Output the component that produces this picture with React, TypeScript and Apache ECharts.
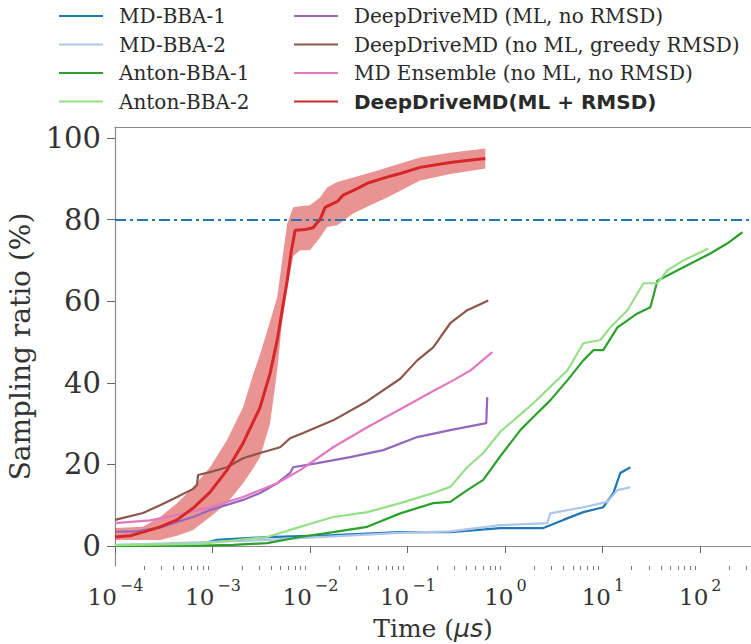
import React, { useEffect, useRef } from "react";
import * as echarts from "echarts";

// ---------- data (time in µs, sampling ratio in %) ----------
const X_MIN = 1e-4;
const X_MAX = 335;
const Y_MIN = -4.9;
const Y_MAX = 102.7;
const yTickValues = [0, 20, 40, 60, 80, 100];
const xMajorTicks = [1e-4, 1e-3, 1e-2, 1e-1, 1, 10, 100];
const thresholdValue = 80;

const mdBba1Time = [1e-4, 7.46e-4, 1.11e-3, 3.64e-3, 1.73e-2, 8.44e-2, 0.275, 0.897, 2.48, 3.98, 6.38, 10.2, 13.0, 15.3, 19.4];
const mdBba1Value = [0.2, 0.5, 1.5, 2.2, 2.7, 3.4, 3.4, 4.4, 4.4, 6.4, 8.3, 9.5, 13, 17.9, 19.3];

const mdBba2Time = [1e-4, 3.64e-3, 8.44e-2, 0.275, 0.897, 2.72, 2.92, 6.38, 11.2, 14.3, 19.4];
const mdBba2Value = [0.2, 1.5, 3.2, 3.6, 5.1, 5.6, 8, 9.5, 10.8, 13.7, 14.4];

const anton1Time = [1e-4, 7.46e-4, 1.63e-3, 3.64e-3, 7.93e-3, 1.73e-2, 3.87e-2, 8.44e-2, 0.184, 0.275, 0.411, 0.6, 0.897, 1.44, 1.96, 2.92, 4.37, 6.38, 8.09, 10.2, 14.3, 22.9, 31.1, 36.7, 67.9, 128, 192, 274];
const anton1Value = [0, 0.1, 0.3, 0.7, 2.2, 3.4, 4.7, 8, 10.5, 10.8, 13.7, 16.2, 22, 28.4, 31.6, 35.7, 40.6, 45.5, 48, 48, 53.6, 57, 58.5, 65, 68.3, 71.7, 74.2, 76.9];

const anton2Time = [1e-4, 7.46e-4, 3.64e-3, 7.93e-3, 1.73e-2, 3.87e-2, 8.44e-2, 0.184, 0.275, 0.411, 0.6, 0.897, 1.34, 1.96, 2.92, 4.37, 6.38, 9.54, 12.1, 18.1, 26.4, 36.7, 46.5, 67.9, 122];
const anton2Value = [0.2, 0.5, 2.2, 4.7, 7.1, 8.3, 10.5, 13, 14.5, 19.3, 22.8, 28, 31.6, 35, 39, 43, 49.7, 50.5, 53.6, 57.8, 64.4, 64.4, 67.6, 70, 72.9];

const ddmdMlTime = [1e-4, 1.68e-4, 2.9e-4, 4.33e-4, 6.33e-4, 9.45e-4, 2.06e-3, 3.08e-3, 4.61e-3, 6.26e-3, 6.73e-3, 1.19e-2, 2.59e-2, 5.65e-2, 0.126, 0.275, 0.644, 0.659];
const ddmdMlValue = [3.5, 3.6, 4.5, 5.9, 7.1, 8.8, 11.3, 13, 15.4, 17.9, 19.3, 20.3, 21.8, 23.5, 26.7, 28.4, 30.1, 36.5];

const ddmdGreedyTime = [1e-4, 1.94e-4, 2.9e-4, 4.33e-4, 6.33e-4, 6.95e-4, 7.11e-4, 9.45e-4, 1.41e-3, 2.06e-3, 3.08e-3, 4.94e-3, 6.26e-3, 8.51e-3, 1.73e-2, 3.87e-2, 8.44e-2, 0.126, 0.184, 0.275, 0.411, 0.676];
const ddmdGreedyValue = [6.4, 8.1, 10, 12, 14, 15, 17.4, 18.1, 19.3, 21.5, 22.8, 24.2, 26.4, 27.7, 30.8, 35.5, 41, 45.5, 48.7, 54.6, 57.8, 60.2];

const ensembleTime = [1e-4, 2.29e-4, 4.33e-4, 9.45e-4, 2.06e-3, 4.61e-3, 7.93e-3, 1.73e-2, 3.87e-2, 8.44e-2, 0.184, 0.295, 0.442, 0.743];
const ensembleValue = [5.6, 6.3, 7.6, 9.5, 12, 15.4, 18.6, 24.2, 29.1, 33.5, 38, 40.6, 43, 47.5];

const ddmdTime = [1e-4, 1.43e-4, 1.94e-4, 2.9e-4, 4.33e-4, 6.33e-4, 9.45e-4, 1.41e-3, 2.06e-3, 3.08e-3, 3.9e-3, 4.61e-3, 5.19e-3, 5.84e-3, 6.41e-3, 7.05e-3, 8.93e-3, 1.08e-2, 1.19e-2, 1.27e-2, 1.43e-2, 1.73e-2, 1.9e-2, 2.19e-2, 2.59e-2, 3.05e-2, 3.87e-2, 5.92e-2, 8.44e-2, 0.135, 0.184, 0.275, 0.411, 0.63];
const ddmdMean = [2.2, 2.5, 3.4, 4.7, 6.4, 9.3, 13.2, 18.6, 25.2, 34, 42.3, 50.4, 57.8, 65, 72, 77.4, 77.6, 78, 79.3, 80, 83, 84, 84.4, 86, 86.8, 87.6, 88.9, 90.3, 91.3, 92.8, 93.3, 94, 94.5, 95];

const ddmdBandTime = [1e-4, 1.94e-4, 2.9e-4, 4.33e-4, 6.33e-4, 9.45e-4, 1.41e-3, 2.06e-3, 2.61e-3, 3.08e-3, 3.9e-3, 4.61e-3, 5.19e-3, 5.84e-3, 6.73e-3, 7.93e-3, 1.0e-2, 1.27e-2, 1.5e-2, 1.9e-2, 2.78e-2, 4.15e-2, 6.21e-2, 0.135, 0.275, 0.63];
const ddmdUpper = [4.4, 4.7, 7.1, 10.5, 14.4, 19.3, 26, 34, 42, 47, 55, 61, 70, 79, 83, 83.3, 83.5, 85.4, 87.9, 89.2, 90.3, 91.5, 92.8, 95.2, 96.4, 97.4];
const ddmdLower = [1.5, 1.5, 1.5, 2.5, 3.9, 7.1, 10.5, 15.4, 19, 21.8, 30, 43, 55, 63, 71, 72.5, 72.5, 75.6, 78.2, 78.6, 81.5, 83.5, 85.4, 89.6, 91.2, 92.5];

const legendLeft = ["MD-BBA-1", "MD-BBA-2", "Anton-BBA-1", "Anton-BBA-2"];
const legendRight = [
  "DeepDriveMD (ML, no RMSD)",
  "DeepDriveMD (no ML, greedy RMSD)",
  "MD Ensemble (no ML, no RMSD)",
  "DeepDriveMD(ML + RMSD)",
];

// ---------- helpers ----------
const SERIF = "'DejaVu Serif', serif";
const SANS = "'DejaVu Sans', sans-serif";
const zip = (t: number[], v: number[]) => t.map((x, i) => [x, v[i]]);

const minorTicks: number[] = [];
for (let n = -4; n <= 2; n++) {
  for (let k = 2; k <= 9; k++) {
    const v = k * Math.pow(10, n);
    if (v < X_MAX) minorTicks.push(v);
  }
}

const lineSeries = (name: string, t: number[], v: number[], color: string, width = 2.2, z = 3) => ({
  name,
  type: "line",
  data: zip(t, v),
  symbol: "none",
  showSymbol: false,
  lineStyle: { color, width },
  itemStyle: { color },
  z,
});

// single-line label: tall spacer, "10" aligned to bottom, exponent aligned to top
function expLabel(value: number) {
  const lg = Math.log10(value);
  const e = Math.round(lg);
  if (Math.abs(lg - e) > 1e-6) return "";
  const sup = `${e < 0 ? "\u2212" : ""}${Math.abs(e)}`;
  return `{h| }{b|10}{s|${sup}}`;
}

export default function App() {
  const ref = useRef<HTMLDivElement>(null);

  useEffect(() => {
    if (!ref.current) return;
    const chart = echarts.init(ref.current, undefined, { renderer: "svg" });

    const legendCommon = {
      orient: "vertical",
      top: 4,
      padding: 0,
      itemWidth: 44,
      itemHeight: 14,
      itemGap: 4.5,
      itemStyle: { opacity: 0, color: "rgba(0,0,0,0)", borderWidth: 0 },
      textStyle: {
        fontFamily: SERIF,
        fontSize: 20,
        color: "#2a2a2a",
        lineHeight: 24,
        padding: [0, 0, 0, 11],
      },
    };

    const option = {
      animation: false,
      backgroundColor: "#ffffff",
      legend: [
        { ...legendCommon, left: 58, data: legendLeft },
        {
          ...legendCommon,
          left: 293,
          data: [
            legendRight[0],
            legendRight[1],
            legendRight[2],
            {
              name: legendRight[3],
              textStyle: { fontFamily: SANS, fontWeight: "bold", fontSize: 20 },
            },
          ],
        },
      ],
      grid: { left: 115, right: 0, top: 127, bottom: 78, containLabel: false, outerBoundsMode: "none" },
      xAxis: [
        {
          type: "log",
          logBase: 10,
          min: X_MIN,
          max: X_MAX,
          splitNumber: 7,
          position: "bottom",
          name: "Time ({i|\u03bcs})",
          nameLocation: "middle",
          nameGap: 50,
          nameTextStyle: {
            fontFamily: SERIF,
            fontSize: 25,
            color: "#333",
            rich: { i: { fontFamily: SANS, fontStyle: "italic", fontSize: 25, color: "#333" } },
          },
          axisLine: { show: true, lineStyle: { color: "#8a8a8a", width: 1.2 } },
          axisTick: { show: true, length: 7, lineStyle: { color: "#666", width: 1 }, customValues: xMajorTicks },
          axisLabel: {
            customValues: xMajorTicks,
            margin: 11,
            formatter: expLabel,
            color: "#333",
            rich: {
              h: { fontFamily: SERIF, fontSize: 8, lineHeight: 31, width: 1 },
              b: { fontFamily: SERIF, fontSize: 23, lineHeight: 26, verticalAlign: "bottom", color: "#333" },
              s: { fontFamily: SERIF, fontSize: 16, lineHeight: 18, verticalAlign: "top", color: "#333", padding: [0, 0, 0, 3] },
            },
          },
          splitLine: { show: false },
        },
        {
          type: "log",
          logBase: 10,
          min: X_MIN,
          max: X_MAX,
          position: "top",
          axisLine: { show: true, lineStyle: { color: "#8a8a8a", width: 1.2 } },
          axisTick: { show: false },
          axisLabel: { show: false },
          splitLine: { show: false },
        },
        {
          type: "log",
          logBase: 10,
          min: X_MIN,
          max: X_MAX,
          position: "bottom",
          axisLine: { show: false },
          axisTick: { show: true, length: 4, lineStyle: { color: "#777", width: 1 }, customValues: minorTicks },
          axisLabel: { show: false },
          splitLine: { show: false },
        },
      ],
      yAxis: {
        type: "value",
        min: Y_MIN,
        max: Y_MAX,
        name: "Sampling ratio (%)",
        nameLocation: "middle",
        nameGap: 70,
        nameTextStyle: { fontFamily: SERIF, fontSize: 28, color: "#333" },
        axisLine: { show: true, lineStyle: { color: "#8a8a8a", width: 1.2 } },
        axisTick: { show: true, length: 8, lineStyle: { color: "#666" }, customValues: yTickValues },
        axisLabel: { customValues: yTickValues, margin: 14, fontFamily: SERIF, fontSize: 29, color: "#333" },
        splitLine: { show: false },
      },
      series: [
        {
          name: "ddmd-band",
          type: "custom",
          coordinateSystem: "cartesian2d",
          xAxisIndex: 0,
          yAxisIndex: 0,
          silent: true,
          clip: true,
          z: 1,
          data: ddmdBandTime.map((t, i) => [t, ddmdLower[i], ddmdUpper[i]]),
          encode: { x: 0, y: [1, 2] },
          renderItem: (params: any, api: any) => {
            if (params.dataIndex !== 0) return null;
            const top = ddmdBandTime.map((t, i) => api.coord([t, ddmdUpper[i]]));
            const bottom = ddmdBandTime.map((t, i) => api.coord([t, ddmdLower[i]])).reverse();
            return {
              type: "polygon",
              shape: { points: top.concat(bottom) },
              style: { fill: "rgba(214,39,40,0.5)", stroke: "none" },
            };
          },
        },
        {
          ...lineSeries(legendLeft[0], mdBba1Time, mdBba1Value, "#1f77b4"),
          markLine: {
            silent: true,
            symbol: "none",
            label: { show: false },
            lineStyle: { color: "#1f77b4", width: 2, type: [11, 4, 3, 4] },
            data: [{ yAxis: thresholdValue }],
          },
        },
        lineSeries(legendLeft[1], mdBba2Time, mdBba2Value, "#aec7e8"),
        lineSeries(legendLeft[2], anton1Time, anton1Value, "#2ca02c"),
        lineSeries(legendLeft[3], anton2Time, anton2Value, "#98df8a"),
        lineSeries(legendRight[0], ddmdMlTime, ddmdMlValue, "#9467bd"),
        lineSeries(legendRight[1], ddmdGreedyTime, ddmdGreedyValue, "#8c564b"),
        lineSeries(legendRight[2], ensembleTime, ensembleValue, "#e377c2"),
        lineSeries(legendRight[3], ddmdTime, ddmdMean, "#d62728", 3, 5),
      ],
    };

    chart.setOption(option as any);
    return () => chart.dispose();
  }, []);

  return (
    <div
      ref={ref}
      style={{ position: "absolute", left: 0, top: 0, width: 751, height: 644, background: "#fff" }}
    />
  );
}
